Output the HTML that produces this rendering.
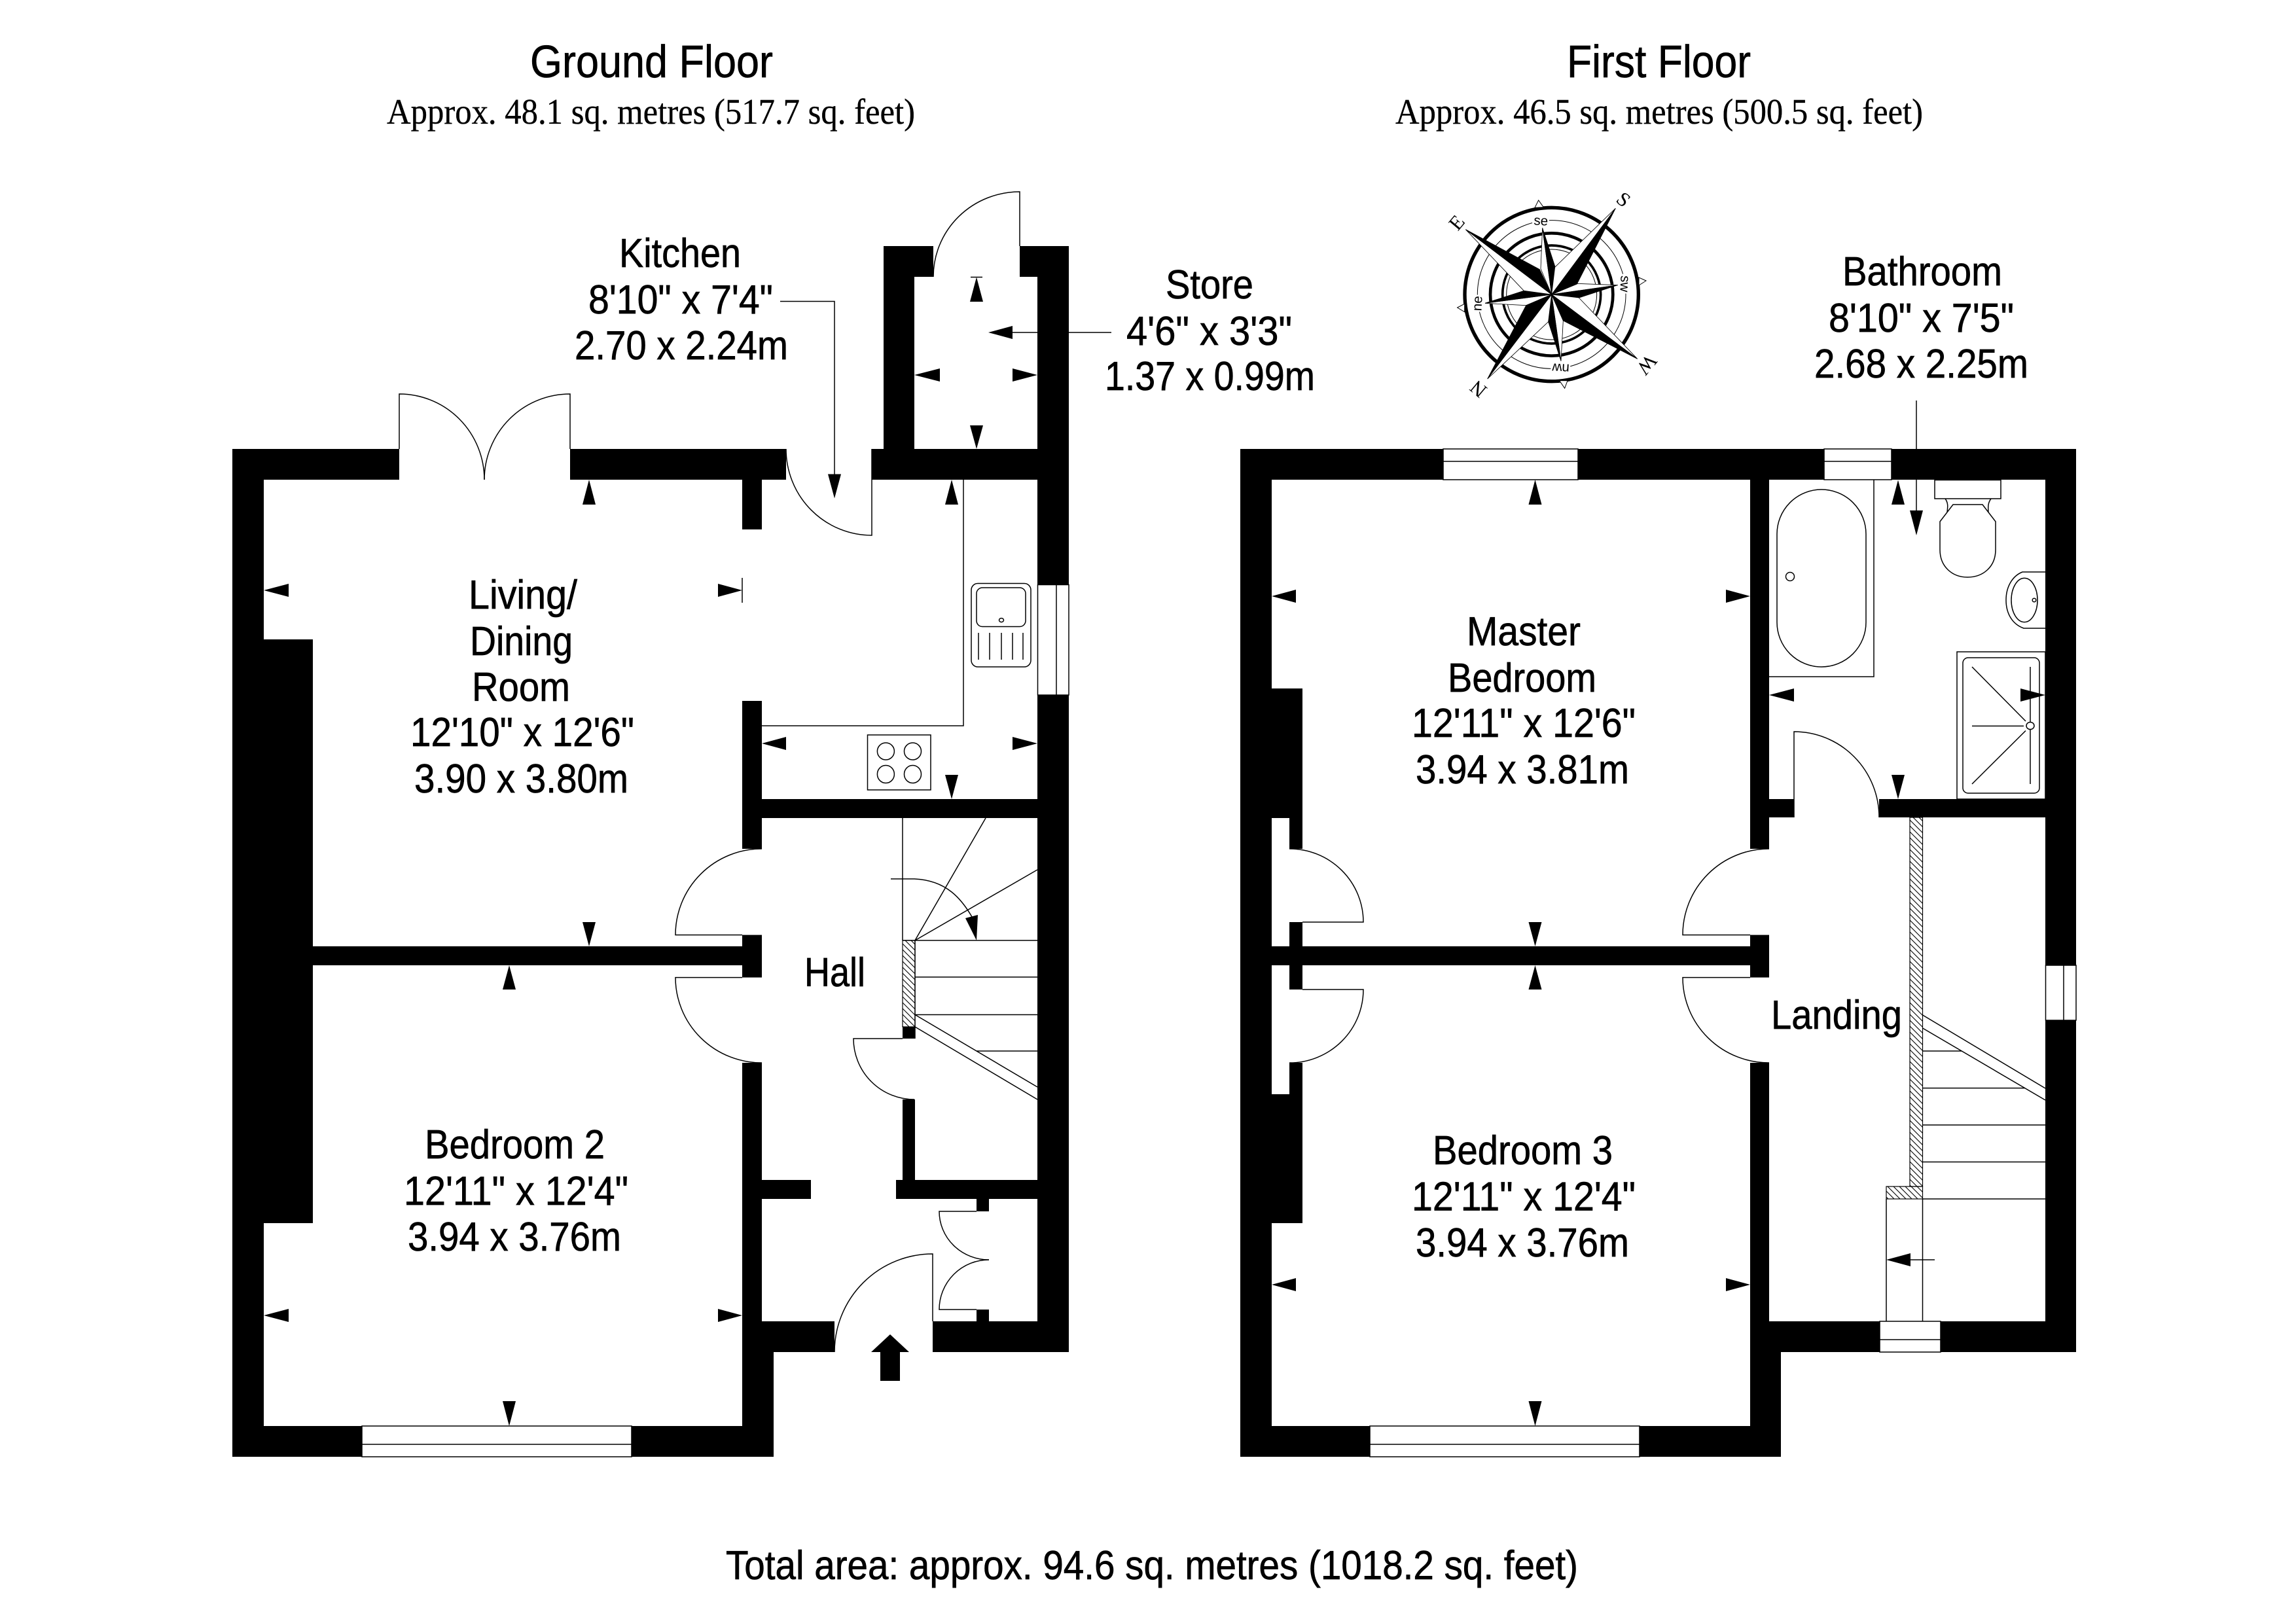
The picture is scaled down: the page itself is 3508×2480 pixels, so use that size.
<!DOCTYPE html>
<html>
<head>
<meta charset="utf-8">
<title>Floor plan</title>
<style>
html,body{margin:0;padding:0;background:#fff}
svg{display:block}
text{font-family:"Liberation Sans",sans-serif;font-size:62px;fill:#000}
svg>text{stroke:#000;stroke-width:.7}
svg>text.s{stroke-width:.35}
.s{font-family:"Liberation Serif",serif;font-size:55px}
.t{font-size:70px}
.l{fill:none;stroke:#000;stroke-width:1.5}
.w{fill:#fff;stroke:#000;stroke-width:1.5}
</style>
</head>
<body>
<svg xmlns="http://www.w3.org/2000/svg" width="3508" height="2480" viewBox="0 0 3508 2480">
<defs>
<pattern id="h" patternUnits="userSpaceOnUse" width="9" height="9"><path d="M0 0L9 9M-1 8L1 10M8 -1L10 1" stroke="#000" stroke-width="1.1" fill="none"/></pattern>
</defs>
<rect width="3508" height="2480" fill="#fff"/>

<!-- titles -->
<text class="t" x="810" y="118" textLength="371" lengthAdjust="spacingAndGlyphs">Ground Floor</text>
<text class="s" x="591" y="189" textLength="807" lengthAdjust="spacingAndGlyphs">Approx. 48.1 sq. metres (517.7 sq. feet)</text>
<text class="t" x="2394" y="118" textLength="281" lengthAdjust="spacingAndGlyphs">First Floor</text>
<text class="s" x="2132" y="189" textLength="806" lengthAdjust="spacingAndGlyphs">Approx. 46.5 sq. metres (500.5 sq. feet)</text>
<text x="1109" y="2413" textLength="1302" lengthAdjust="spacingAndGlyphs">Total area: approx. 94.6 sq. metres (1018.2 sq. feet)</text>

<!-- GROUND FLOOR walls -->
<g fill="#000">
<rect x="355" y="686" width="48" height="1540"/>
<rect x="355" y="686" width="255" height="47"/>
<rect x="871" y="686" width="330" height="47"/>
<rect x="1134" y="686" width="30" height="123"/>
<rect x="1332" y="686" width="301" height="47"/>
<rect x="1350" y="376" width="47" height="310"/>
<rect x="1350" y="376" width="76" height="47"/>
<rect x="1558" y="376" width="75" height="47"/>
<rect x="1585" y="376" width="48" height="517.5"/>
<rect x="1585" y="1062" width="48" height="1004"/>
<rect x="355" y="977" width="123" height="892"/>
<rect x="1134" y="1071" width="30" height="226"/>
<rect x="1134" y="1428.6" width="30" height="65"/>
<rect x="1134" y="1624" width="30" height="442"/>
<rect x="1134" y="1221" width="499" height="29"/>
<rect x="478" y="1446" width="686" height="29"/>
<rect x="355" y="2179" width="198" height="47"/>
<rect x="965" y="2179" width="217" height="47"/>
<rect x="1134" y="2019" width="48" height="207"/>
<rect x="1134" y="2019" width="141" height="47"/>
<rect x="1425" y="2019" width="208" height="47"/>
<rect x="1164" y="1803" width="75" height="29"/>
<rect x="1379" y="1569" width="19" height="18"/>
<rect x="1379" y="1680" width="19" height="123"/>
<rect x="1369" y="1803" width="264" height="29"/>
<rect x="1492" y="1832" width="19" height="19"/>
<rect x="1492" y="2001" width="19" height="18"/>
</g>
<rect x="1379" y="1437" width="19" height="132" fill="url(#h)" stroke="#000" stroke-width="1.2"/>

<!-- ground windows -->
<rect class="l" x="553" y="2179" width="412" height="47"/>
<path class="l" d="M553 2207H965"/>
<rect class="l" x="1585.5" y="893.5" width="47.5" height="168.5"/>
<path class="l" d="M1614 893.5V1062"/>

<!-- ground doors -->
<path class="l" d="M610 686V602A130 131 0 0 1 740 733"/>
<path class="l" d="M871 686V602A131 131 0 0 0 740 733"/>
<path class="l" d="M1332 686V818A131 132 0 0 1 1201 686"/>
<path class="l" d="M1558 376V293A132 130 0 0 0 1426 423"/>
<path class="l" d="M1425 2019V1916A150 150 0 0 0 1275 2066"/>
<path class="l" d="M1134 1428.6H1032A132 131.6 0 0 1 1164 1297"/>
<path class="l" d="M1134 1493.6H1032A132 130.4 0 0 0 1164 1624"/>
<path class="l" d="M1379 1587H1304A93 93 0 0 0 1397 1680"/>
<path class="l" d="M1492 1851H1435A76 74 0 0 0 1511 1925"/>
<path class="l" d="M1492 2001H1435A76 76 0 0 1 1511 1925"/>

<!-- ground stairs -->
<path class="l" d="M1379 1250V1437"/>
<path class="l" d="M1379 1437H1585M1398 1493H1585M1398 1550.5H1585M1492 1606H1585"/>
<path class="l" d="M1398 1437L1506 1250M1398 1437L1585 1329M1398 1550.5L1585 1661M1398 1569L1585 1680M1398 1437V1587"/>
<path class="l" d="M1361 1343H1397C1445 1345 1470 1372 1490 1410"/>
<polygon points="1492,1437 1475,1403 1494,1398"/>

<!-- entrance arrow -->
<polygon points="1360,2039 1389,2066 1375,2066 1375,2110 1345,2110 1345,2066 1331,2066"/>

<!-- kitchen fittings -->
<path class="l" d="M1472 733V1109H1164"/>
<rect class="l" x="1484" y="891.5" width="91" height="127.5" rx="10"/>
<rect class="l" x="1492" y="898" width="75" height="59.5" rx="9"/>
<ellipse class="l" cx="1530" cy="947.6" rx="3.5" ry="3"/>
<path class="l" d="M1495 967V1008M1512 967V1008M1530 967V1008M1547 967V1008M1563 967V1008"/>
<rect class="l" x="1325.5" y="1123" width="96.5" height="84"/>
<ellipse class="l" cx="1353.4" cy="1148" rx="13" ry="13"/>
<ellipse class="l" cx="1394.5" cy="1148" rx="13" ry="13"/>
<ellipse class="l" cx="1353.4" cy="1183" rx="13" ry="13.5"/>
<ellipse class="l" cx="1394.5" cy="1183" rx="13" ry="13.5"/>

<!-- ground arrows -->
<g fill="#000">
<polygon points="900,733 890,771 910,771"/>
<polygon points="900,1446 890,1409 910,1409"/>
<polygon points="403,902 441,892 441,912"/>
<polygon points="1134,902 1097,892 1097,912"/>
<polygon points="778,1475 768,1512 788,1512"/>
<polygon points="778,2179 768,2141 788,2141"/>
<polygon points="403,2010 441,2000 441,2020"/>
<polygon points="1134,2010 1097,2000 1097,2020"/>
<polygon points="1454,733 1444,771 1464,771"/>
<polygon points="1454,1221 1444,1184 1464,1184"/>
<polygon points="1164,1136 1201,1126 1201,1146"/>
<polygon points="1585,1136 1547,1126 1547,1146"/>
<polygon points="1275,761.5 1265,724.5 1285,724.5"/>
<polygon points="1492,423.5 1482,461 1502,461"/>
<polygon points="1397,573 1436,563 1436,583"/>
<polygon points="1585,573 1547,563 1547,583"/>
<polygon points="1492,686 1482,650 1502,650"/>
<polygon points="1510,508 1547,498 1547,518"/>
</g>
<path class="l" d="M1134 883V921M1483 423.5H1501M1192 460.5H1275V730M1540 508H1698"/>

<!-- ground labels -->
<text x="946" y="408" textLength="186" lengthAdjust="spacingAndGlyphs">Kitchen</text>
<text x="899" y="479" textLength="282" lengthAdjust="spacingAndGlyphs">8'10" x 7'4"</text>
<text x="878" y="549" textLength="326" lengthAdjust="spacingAndGlyphs">2.70 x 2.24m</text>
<text x="1781" y="456" textLength="134" lengthAdjust="spacingAndGlyphs">Store</text>
<text x="1721" y="527" textLength="253" lengthAdjust="spacingAndGlyphs">4'6" x 3'3"</text>
<text x="1688" y="596" textLength="321" lengthAdjust="spacingAndGlyphs">1.37 x 0.99m</text>
<text x="716" y="930" textLength="166" lengthAdjust="spacingAndGlyphs">Living/</text>
<text x="718" y="1001" textLength="157" lengthAdjust="spacingAndGlyphs">Dining</text>
<text x="721" y="1071" textLength="150" lengthAdjust="spacingAndGlyphs">Room</text>
<text x="627" y="1140" textLength="342" lengthAdjust="spacingAndGlyphs">12'10" x 12'6"</text>
<text x="633" y="1211" textLength="327" lengthAdjust="spacingAndGlyphs">3.90 x 3.80m</text>
<text x="649" y="1770" textLength="275" lengthAdjust="spacingAndGlyphs">Bedroom 2</text>
<text x="617" y="1841" textLength="343" lengthAdjust="spacingAndGlyphs">12'11" x 12'4"</text>
<text x="623" y="1911" textLength="326" lengthAdjust="spacingAndGlyphs">3.94 x 3.76m</text>
<text x="1229" y="1507" textLength="93" lengthAdjust="spacingAndGlyphs">Hall</text>

<!-- FIRST FLOOR walls -->
<g fill="#000">
<rect x="1895" y="686" width="48" height="1540"/>
<rect x="1895" y="686" width="310" height="47"/>
<rect x="2411" y="686" width="376" height="47"/>
<rect x="2890" y="686" width="282" height="47"/>
<rect x="3125" y="686" width="47" height="789"/>
<rect x="3125" y="1559" width="47" height="507"/>
<rect x="2674" y="686" width="29" height="611"/>
<rect x="2674" y="1428.6" width="29" height="65"/>
<rect x="2674" y="1624" width="29" height="602"/>
<rect x="1943" y="1052" width="47" height="198"/>
<rect x="1970" y="1250" width="20" height="47"/>
<rect x="1970" y="1409" width="20" height="103"/>
<rect x="1970" y="1624" width="20" height="48"/>
<rect x="1943" y="1672" width="47" height="197"/>
<rect x="1895" y="1446" width="808" height="29"/>
<rect x="1895" y="2179" width="198" height="47"/>
<rect x="2505" y="2179" width="216" height="47"/>
<rect x="2674" y="2066" width="47" height="160"/>
<rect x="2703" y="2019" width="169" height="47"/>
<rect x="2965" y="2019" width="207" height="47"/>
<rect x="2674" y="1221" width="67" height="28"/>
<rect x="2871" y="1221" width="254" height="28"/>
</g>

<!-- first windows -->
<rect class="l" x="2205" y="686" width="206" height="47"/><path class="l" d="M2205 705H2411"/>
<rect class="l" x="2787" y="686" width="103" height="47"/><path class="l" d="M2787 705H2890"/>
<rect class="l" x="2093" y="2179" width="412" height="47"/><path class="l" d="M2093 2207H2505"/>
<rect class="l" x="2872" y="2019" width="93" height="47"/><path class="l" d="M2872 2047H2965"/>
<rect class="l" x="3125.5" y="1475" width="46.5" height="84"/><path class="l" d="M3153 1475V1559"/>

<!-- first doors -->
<path class="l" d="M1990 1409H2083A113 112 0 0 0 1970 1297"/>
<path class="l" d="M1990 1512H2083A113 112 0 0 1 1970 1624"/>
<path class="l" d="M2674 1428.6H2571A132 131.6 0 0 1 2703 1297"/>
<path class="l" d="M2674 1493.6H2571A132 130.4 0 0 0 2703 1624"/>
<path class="l" d="M2741 1249V1118A130 131 0 0 1 2871 1249"/>

<!-- first stairs -->
<rect x="2918" y="1249" width="19.5" height="564" fill="url(#h)" stroke="#000" stroke-width="1.2"/>
<rect x="2882" y="1813" width="55.5" height="19" fill="url(#h)" stroke="#000" stroke-width="1.2"/>
<path class="l" d="M2882 1832V2019M2937.5 1832V2019"/>
<path class="l" d="M2937.5 1606H2997M2937.5 1662.6H3094M2937.5 1719H3125M2937.5 1775.5H3125M2937.5 1832H3125"/>
<path class="l" d="M2937.5 1551L3125 1663M2937.5 1571L3125 1681"/>
<polygon points="2882,1925 2919,1915 2919,1935"/>
<path class="l" d="M2915 1925H2956"/>

<!-- bathroom -->
<path class="l" d="M2703 1034H2863V733.5"/>
<rect class="l" x="2715" y="748" width="136" height="271" rx="68" ry="68"/>
<circle class="l" cx="2735" cy="881" r="6.5"/>
<rect class="l" x="2956" y="733.5" width="101" height="28.5"/>
<path class="l" d="M2972 762C2978 770 2975 778 2975 784M3042 762C3036 770 3038 778 3038 784"/>
<path class="w" d="M2984 771H3029L3049 797V840C3049 866 3030 882 3006 882C2983 882 2964 866 2964 840V797Z"/>
<path class="l" d="M3125 874H3090C3075 880 3065 896 3065 917C3065 938 3075 954 3092 960H3125"/>
<ellipse class="l" cx="3093" cy="917" rx="20" ry="33.6"/>
<circle class="l" cx="3108" cy="917" r="2.8"/>
<rect class="l" x="2990" y="996" width="135" height="225"/>
<rect class="l" x="2999" y="1005" width="117" height="207" rx="8"/>
<path class="l" d="M3013 1019L3095 1102M3013 1109.4H3092M3013 1198L3095 1116.5M3102 1019V1198"/>
<ellipse class="w" cx="3102" cy="1109" rx="6" ry="5.5"/>

<!-- first arrows -->
<g fill="#000">
<polygon points="2345.5,733 2335.5,771 2355.5,771"/>
<polygon points="2345.5,1446 2335.5,1409 2355.5,1409"/>
<polygon points="1943,911 1980,901 1980,921"/>
<polygon points="2674,911 2637,901 2637,921"/>
<polygon points="2345.5,1475 2335.5,1512 2355.5,1512"/>
<polygon points="2345.5,2179 2335.5,2141 2355.5,2141"/>
<polygon points="1943,1963 1980,1953 1980,1973"/>
<polygon points="2674,1963 2637,1953 2637,1973"/>
<polygon points="2900,733.5 2890,771 2910,771"/>
<polygon points="2928,818 2918,780 2938,780"/>
<polygon points="2703,1062 2741,1052 2741,1072"/>
<polygon points="3125,1062 3087,1052 3087,1072"/>
<polygon points="2900,1221 2890,1184 2910,1184"/>
</g>
<path class="l" d="M2928 612V785"/>

<!-- first labels -->
<text x="2815" y="436" textLength="244" lengthAdjust="spacingAndGlyphs">Bathroom</text>
<text x="2794" y="507" textLength="283" lengthAdjust="spacingAndGlyphs">8'10" x 7'5"</text>
<text x="2772" y="577" textLength="327" lengthAdjust="spacingAndGlyphs">2.68 x 2.25m</text>
<text x="2241" y="986" textLength="174" lengthAdjust="spacingAndGlyphs">Master</text>
<text x="2212" y="1057" textLength="227" lengthAdjust="spacingAndGlyphs">Bedroom</text>
<text x="2157" y="1126" textLength="342" lengthAdjust="spacingAndGlyphs">12'11" x 12'6"</text>
<text x="2163" y="1197" textLength="326" lengthAdjust="spacingAndGlyphs">3.94 x 3.81m</text>
<text x="2189" y="1779" textLength="275" lengthAdjust="spacingAndGlyphs">Bedroom 3</text>
<text x="2157" y="1849.5" textLength="342" lengthAdjust="spacingAndGlyphs">12'11" x 12'4"</text>
<text x="2163" y="1920" textLength="326" lengthAdjust="spacingAndGlyphs">3.94 x 3.76m</text>
<text x="2706" y="1572" textLength="200" lengthAdjust="spacingAndGlyphs">Landing</text>

<!-- compass -->
<g transform="translate(2200 280) scale(.33333)">
<g fill="none" stroke="#000">
<circle cx="512" cy="510" r="398" stroke-width="16"/>
<circle cx="512" cy="510" r="340" stroke-width="3"/>
<circle cx="512" cy="510" r="281" stroke-width="14"/>
<circle cx="512" cy="510" r="225" stroke-width="11"/>
<circle cx="512" cy="510" r="207" stroke-width="3"/>
</g>
<g fill="#fff" stroke="#000" stroke-width="3">
<polygon points="452,78 435,112 475,110"/>
<polygon points="945,447 912,432 912,468"/>
<polygon points="572,940 548,905 585,905"/>
<polygon points="80,570 113,553 113,590"/>
</g>
<g style="stroke:#fff;stroke-width:16;paint-order:stroke">
<text x="0" y="0" transform="translate(462 192) rotate(3)" text-anchor="middle" style="font-size:62px">se</text>
<text x="0" y="0" transform="translate(828 460) rotate(93)" text-anchor="middle" style="font-size:62px">sw</text>
<text x="0" y="0" transform="translate(555 828) rotate(183)" text-anchor="middle" style="font-size:62px">nw</text>
<text x="0" y="0" transform="translate(192 552) rotate(-87)" text-anchor="middle" style="font-size:62px">ne</text>
</g>
<g>
<text transform="translate(100 200) rotate(-50)" text-anchor="middle" style="font-family:'Liberation Serif',serif;font-size:92px">E</text>
<text transform="translate(822 98) rotate(40)" text-anchor="middle" style="font-family:'Liberation Serif',serif;font-size:92px">S</text>
<text transform="translate(925 812) rotate(130)" text-anchor="middle" style="font-family:'Liberation Serif',serif;font-size:92px">W</text>
<text transform="translate(196 920) rotate(220)" text-anchor="middle" style="font-family:'Liberation Serif',serif;font-size:92px">N</text>
</g>
<g stroke="#000" stroke-width="2.5" stroke-linejoin="miter">
<polygon fill="#fff" points="512,510 470,205 462,392"/><polygon fill="#000" points="512,510 470,205 528,383"/>
<polygon fill="#fff" points="512,510 815,467 628,460"/><polygon fill="#000" points="512,510 815,467 637,525"/>
<polygon fill="#fff" points="512,510 555,815 565,630"/><polygon fill="#000" points="512,510 555,815 497,635"/>
<polygon fill="#fff" points="512,510 207,550 395,560"/><polygon fill="#000" points="512,510 207,550 385,493"/>
<polygon fill="#fff" points="512,510 805,115 527,385"/><polygon fill="#000" points="512,510 805,115 628,462"/>
<polygon fill="#fff" points="512,510 118,212 385,493"/><polygon fill="#000" points="512,510 118,212 457,395"/>
<polygon fill="#fff" points="512,510 218,897 497,635"/><polygon fill="#000" points="512,510 218,897 395,560"/>
<polygon fill="#fff" points="512,510 905,805 637,525"/><polygon fill="#000" points="512,510 905,805 565,630"/>
</g>
</g>
</svg>
</body>
</html>
